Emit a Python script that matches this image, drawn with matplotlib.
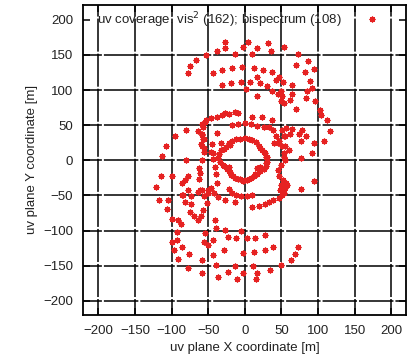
import numpy as np
import matplotlib
matplotlib.use("Agg")
import matplotlib.pyplot as plt

plt.rcParams['font.family'] = ['Liberation Sans', 'DejaVu Sans']
plt.rcParams['lines.scale_dashes'] = False

# uv noktalari (metre), resimden okunan degerler
# dis bolge (|v| > ~60)
outer_pts = [
    (-27, 168), (-27, 160), (-38, 156), (-14, 151), (-53, 150), (4, 169), (-2, 161),
    (17, 160), (31, 167), (36, 156), (53, 161), (10, 151), (72, 152), (70, 135),
    (86, 142), (94, 130), (82, 125), (89, 113), (91, 103), (85, 98), (-67, 143),
    (-75, 134), (-77, 124), (-43, 124), (-31, 129), (-17, 131), (-4, 133), (12, 131),
    (25, 129), (37, 125), (46, 118), (42, 114), (52, 112), (64, 107), (17, 118),
    (20, 110), (7, 111), (-5, 111), (-19, 110), (-31, 107), (30, 106), (1, 101),
    (37, 99), (50, 98), (45, 94), (51, 91), (17, 91), (64, 94), (62, 86), (50, 84),
    (70, 73), (54, 81), (83, 88), (96, 85), (102, 72), (104, 65), (112, 57),
    (116, 42), (108, 27),
    (-121, -38), (-117, -56), (-105, -57), (-107, -70), (-100, -83), (-91, -85),
    (-87, -90), (-93, -102), (-99, -116), (-93, -113), (-97, -128), (-86, -123),
    (-91, -141), (-76, -133), (-77, -153), (-58, -142), (-58, -160), (-40, -149),
    (-36, -166), (-23, -159), (-13, -151), (-11, -169), (-3, -160), (-2, -132),
    (-5, -100), (11, -150), (16, -161), (15, -169), (13, -131), (27, -128),
    (27, -106), (14, -110), (3, -111), (38, -124), (35, -156), (49, -149), (63, -142),
    (69, -134), (72, -124), (-12, -110), (-23, -109), (-27, -99), (-41, -85),
    (-39, -97), (-43, -114), (-29, -128), (-43, -135), (-56, -116), (-50, -121),
    (-54, -104), (-60, -79), (-64, -85), (-70, -79), (-75, -73), (-74, -62),
    (-82, -59), (-86, -50), (-73, -51), (-52, -61), (-57, -71),
]

# orta halka ve cevresi (r ~ 50)
ring_pts = [
    (-27, 67), (-13, 69), (-9, 68), (-58, 52), (-53, 57), (-46, 60), (-38, 62),
    (-31, 65), (-22, 66), (10, 62), (23, 61), (37, 58),
    (-18, 50), (-10, 52), (0, 53), (8, 52), (17, 49), (26, 47), (33, 48),
    (-64, 41), (-59, 36), (-56, 30), (-60, 23), (-56, 17), (-45, 23), (-43, 10),
    (-38, 39), (-32, 25), (-54, 54), (-57, 47), (-58, 38), (-57, 31), (-59, 21),
    (-56, 12), (-59, 1), (-63, -11), (-61, -18), (-62, -27), (-58, -42), (-50, -43),
    (-46, 12), (-43, 2), (-41, -10), (-40, -20), (-38, -33),
    (38, 43), (42, 34), (45, 24), (53, 34), (55, 20), (54, 10), (55, 0), (50, -7),
    (45, -14), (47, -22), (52, -28), (57, -35), (48, -42), (52, -47),
    (51, 43), (56, 46), (55, 34), (61, 38), (64, 44), (74, 38), (78, 43), (83, 34),
    (76, 27), (94, 24), (60, 15), (51, 20), (54, 5), (92, 10), (76, 3), (46, 27),
    (40, 24),
    (-46, -40), (-42, -46), (-36, -52), (-27, -57), (-13, -59), (-22, -41),
    (-18, -46), (-12, -50), (-5, -51), (3, -51), (10, -50), (10, -66), (19, -65),
    (27, -62), (33, -59), (39, -57), (46, -53), (51, -50), (53, -46), (55, -40),
    (56, -32), (50, -35), (76, -41), (94, -30), (-50, -47), (-56, -51), (-61, -42),
    (-64, -45),
    (-80, 43), (-96, 34), (-108, 21), (-113, 6), (-80, 1), (-114, -23), (-100, -23),
    (-86, -33), (-82, -28), (-77, -23), (-78, -42), (-84, -49),
]

# ic yonca seklindeki halka (r ~ 30)
inner_pts = [
    (-22, 24), (-18, 28), (-12, 30), (-6, 31), (0, 32), (5, 31), (10, 29), (15, 26),
    (19, 20), (23, 15), (28, 10), (30, 4), (30, -2), (29, -8), (26, -13), (21, -15),
    (16, -19), (12, -23), (6, -27), (0, -28), (-6, -27), (-13, -25), (-19, -21),
    (-22, -15), (-29, -8), (-34, -3), (-36, 3), (-35, 9), (-32, 15), (-26, 19),
    (-2, -29), (3, -28), (-9, -26), (8, -25), (20, 17), (26, 12), (-30, -6),
    (-24, -12), (-28, 16), (-20, 22), (29, 5), (29, -4), (14, -20), (-16, -23),
    (-22, -10), (-20, -16), (16, -11), (21, -10),
]

tick_vals = [-200, -150, -100, -50, 0, 50, 100, 150, 200]

noktalar = np.array(outer_pts + ring_pts + inner_pts)

fig = plt.figure(figsize=(4.13, 3.59), dpi=100)
ax = fig.add_axes([0.201, 0.123, 0.782, 0.863])

ax.plot(noktalar[:, 0], noktalar[:, 1], linestyle="none", marker=(8, 2, 0),
        markersize=4.2, markeredgewidth=0.9, color="#e62222",
        label="uv coverage: vis$^2$ (162); bispectrum (108)", zorder=3)

ax.set_xlim(-221, 220)
ax.set_ylim(-220, 221)
ax.set_xticks(tick_vals)
ax.set_yticks(tick_vals)
# gnuplot tarzi izgara: kesisim yaninda kucuk beyaz bosluklar
ax.xaxis.grid(True, color="black", linewidth=1.1, linestyle=(12.3, (23.8, 1.44)))
ax.yaxis.grid(True, color="black", linewidth=1.1, linestyle=(11.2, (24.8, 1.44)))
ax.yaxis.get_gridlines()[-1].set_visible(False)  # 200 cizgisi anahtarin altinda yok
ax.tick_params(direction="in", length=5, width=1.1, top=True, right=True,
               labelsize=9.5, labelcolor="#222222", pad=7)
for s in ax.spines.values():
    s.set_linewidth(1.3)

ax.set_xlabel("uv plane X coordinate [m]", fontsize=9.5, color="#222222", labelpad=4)
ax.set_ylabel("uv plane Y coordinate [m]", fontsize=9.5, color="#222222", labelpad=4)

leg = ax.legend(loc="center left", bbox_to_anchor=(0.043, 0.952), frameon=False,
                markerfirst=False, numpoints=1, fontsize=9.5, handlelength=2,
                handletextpad=1.3, borderpad=0, borderaxespad=0)
for t in leg.get_texts():
    t.set_color("#222222")

fig.savefig("out.png", dpi=100)
